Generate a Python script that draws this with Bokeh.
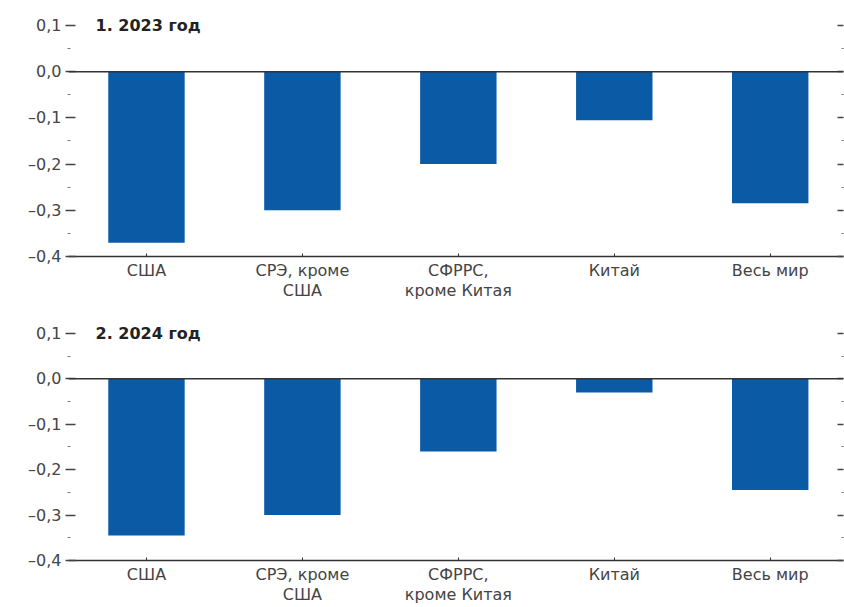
from bokeh.plotting import figure
from bokeh.models import (ColumnDataSource, FixedTicker, LinearAxis, Range1d, Span, Label)
from bokeh.layouts import column
from bokeh.embed import file_html
from bokeh.resources import INLINE

categories = ["США", "СРЭ, кроме\nСША", "СФРРС,\nкроме Китая", "Китай", "Весь мир"]
values_2023 = [-0.37, -0.30, -0.20, -0.105, -0.285]
values_2024 = [-0.345, -0.30, -0.16, -0.03, -0.245]
titles = ["1. 2023 год", "2. 2024 год"]
y_ticks = [-0.4, -0.3, -0.2, -0.1, 0.0, 0.1]
y_tick_labels = ["–0,4", "–0,3", "–0,2", "–0,1", "0,0", "0,1"]
y_minor = [-0.35, -0.25, -0.15, -0.05, 0.05]

BAR = "#0a5aa6"
FONT = "DejaVu Sans"
TXT = "#444444"


def make_panel(values, title, height, top_border, bottom_border):
    xs = list(range(len(categories)))
    src = ColumnDataSource(dict(x=xs, bottom=values, top=[0] * len(values)))
    p = figure(width=844, height=height, output_backend="svg", toolbar_location=None,
               x_range=Range1d(-0.5, 4.47), y_range=Range1d(-0.4, 0.115),
               min_border_left=68, min_border_right=1,
               min_border_top=top_border, min_border_bottom=bottom_border)
    p.outline_line_color = None
    p.xgrid.visible = False
    p.ygrid.visible = False
    p.vbar(x="x", bottom="bottom", top="top", width=0.49, source=src,
           fill_color=BAR, line_color=None)
    p.add_layout(Span(location=0, dimension="width", line_color="#333333", line_width=1.5))

    # x axis
    xa = p.xaxis[0]
    xa.ticker = FixedTicker(ticks=xs)
    xa.major_label_overrides = {i: c for i, c in enumerate(categories)}
    xa.axis_line_color = "#333333"
    xa.axis_line_width = 1.5
    xa.major_tick_in = 3
    xa.major_tick_out = 0
    xa.major_tick_line_color = "#333333"
    xa.minor_tick_line_color = None
    xa.major_label_text_font = FONT
    xa.major_label_text_font_size = "16px"
    xa.major_label_text_line_height = 1.1
    xa.major_label_text_color = TXT
    xa.major_label_standoff = 4

    # y axis
    ya = p.yaxis[0]
    ya.ticker = FixedTicker(ticks=y_ticks, minor_ticks=y_minor)
    ya.major_label_overrides = {t: l for t, l in zip(y_ticks, y_tick_labels)}
    ya.axis_line_color = None
    ya.major_tick_in = 7
    ya.major_tick_out = 3
    ya.major_tick_line_color = "#444444"
    ya.major_tick_line_width = 1.5
    ya.minor_tick_in = 2
    ya.minor_tick_out = 1
    ya.minor_tick_line_color = "#777777"
    ya.major_label_text_font = FONT
    ya.major_label_text_font_size = "16px"
    ya.major_label_text_color = TXT
    ya.major_label_standoff = 4

    ra = LinearAxis(ticker=FixedTicker(ticks=y_ticks, minor_ticks=y_minor))
    ra.axis_line_color = None
    ra.major_label_text_font_size = "0px"
    ra.major_label_text_alpha = 0
    ra.major_label_standoff = 0
    ra.major_tick_in = 6
    ra.major_tick_out = 0
    ra.major_tick_line_color = "#444444"
    ra.major_tick_line_width = 1.5
    ra.minor_tick_in = 2
    ra.minor_tick_out = 0
    ra.minor_tick_line_color = "#777777"
    p.add_layout(ra, "right")

    p.add_layout(Label(x=27, x_units="screen", y=0.1, text=title,
                       text_font=FONT, text_font_size="16px", text_font_style="bold",
                       text_color="#222222", text_baseline="middle", text_align="left"))
    return p


p1 = make_panel(values_2023, titles[0], 305, 18, 49)
p2 = make_panel(values_2024, titles[1], 302, 21, 43)
layout = column(p1, p2, spacing=0)
open("out.html", "w").write(file_html(layout, INLINE))
